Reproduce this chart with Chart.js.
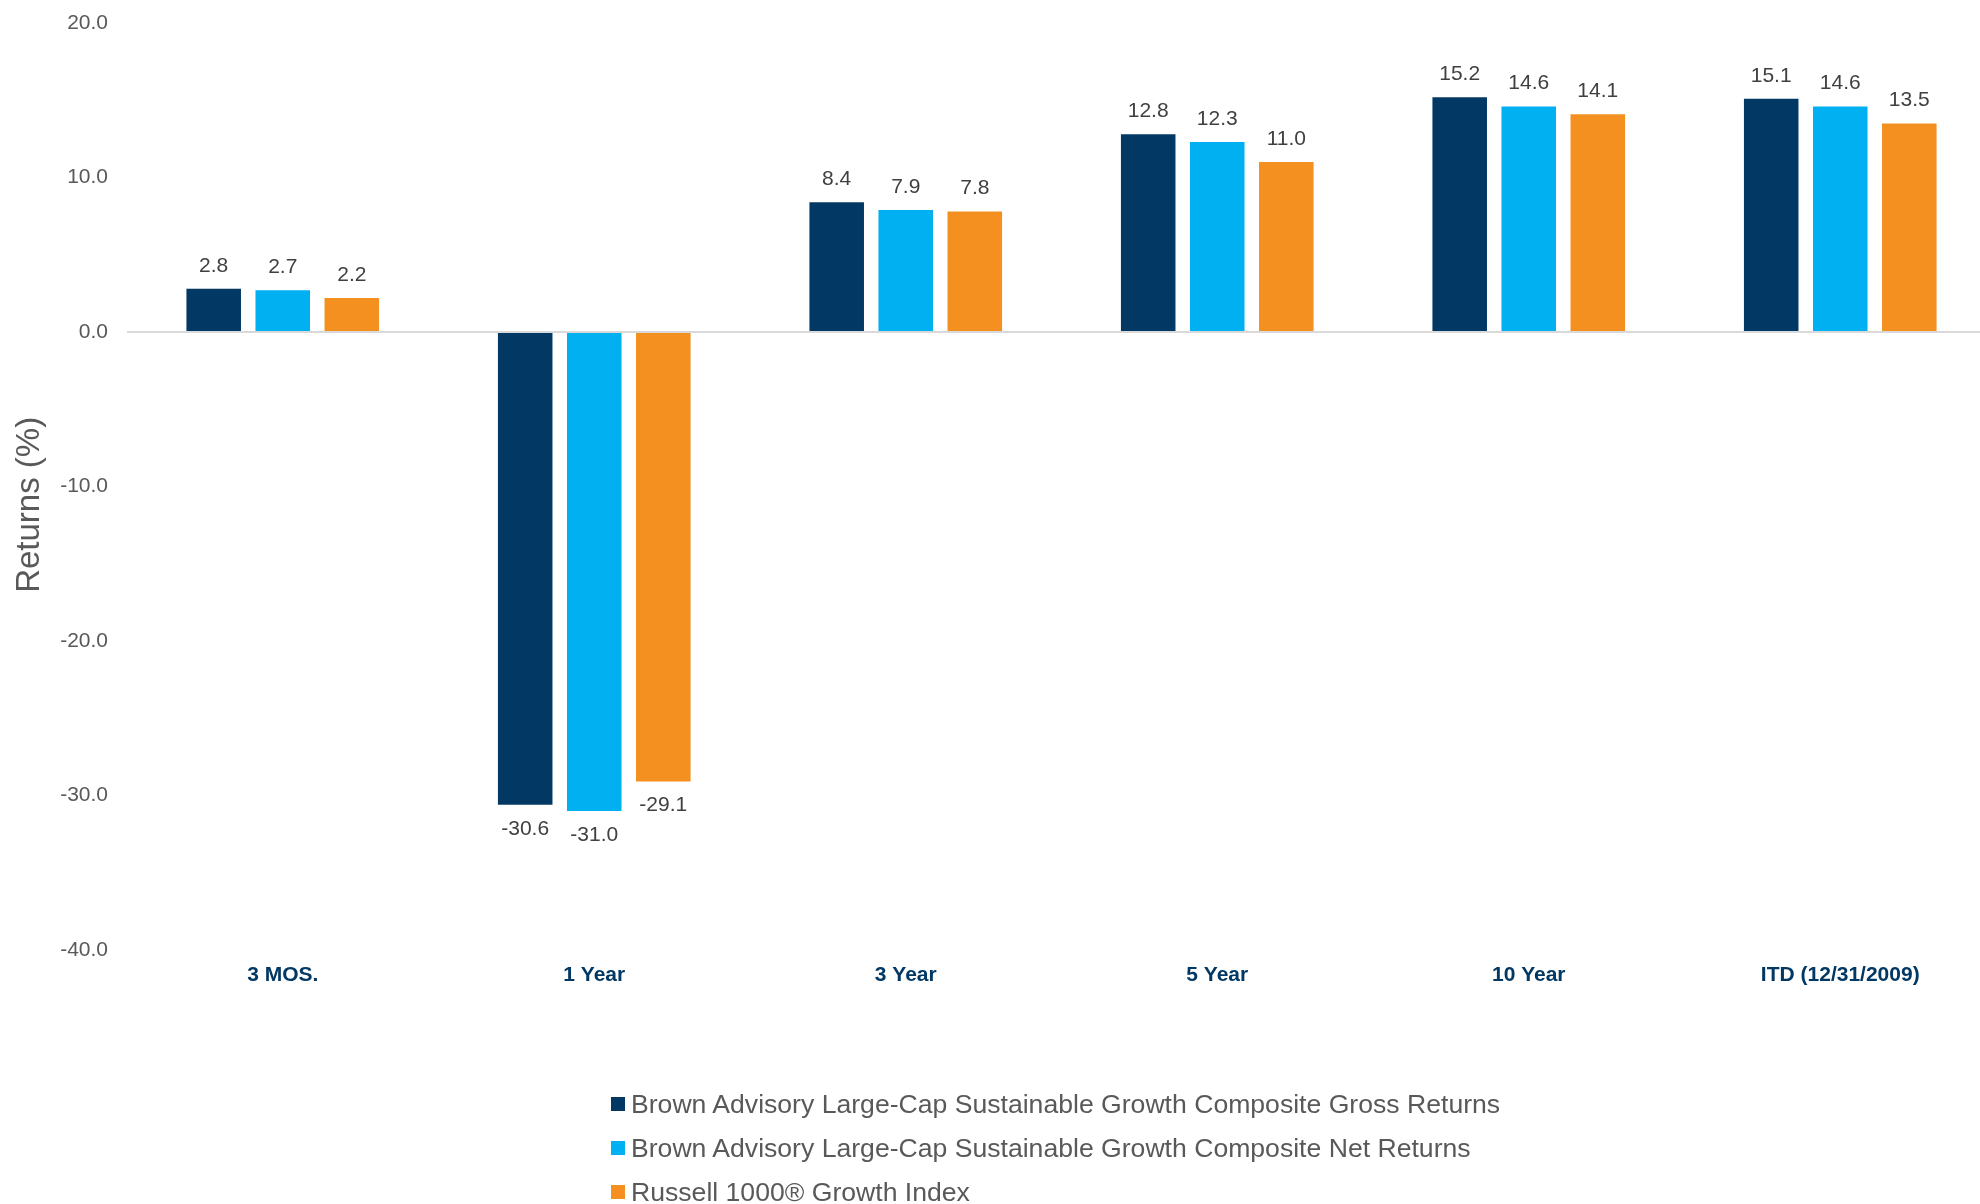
<!DOCTYPE html>
<html>
<head>
<meta charset="utf-8">
<script src="https://cdn.jsdelivr.net/npm/chart.js@4"></script>
<style>
  html, body { margin: 0; padding: 0; background: #fff; overflow: hidden; }
  #wrap { position: relative; width: 1996px; height: 1204px; }
  #legend { position: absolute; left: 611px; top: 1082px; font-family: "Liberation Sans", Arial, sans-serif; font-size: 26.6px; color: #595959; }
  #legend .item { display: flex; align-items: center; height: 44px; white-space: nowrap; }
  #legend .sw { width: 14px; height: 14px; margin-right: 6px; }
</style>
</head>
<body>
<div id="wrap">
  <canvas id="chart"></canvas>
  <div id="legend"></div>
</div>
<script>
// periods and returns (%)
const periods = ['3 MOS.', '1 Year', '3 Year', '5 Year', '10 Year', 'ITD (12/31/2009)'];
const grossReturns = [2.8, -30.6, 8.4, 12.8, 15.2, 15.1];
const netReturns = [2.7, -31.0, 7.9, 12.3, 14.6, 14.6];
const indexReturns = [2.2, -29.1, 7.8, 11.0, 14.1, 13.5];
const seriesNames = [
  'Brown Advisory Large-Cap Sustainable Growth Composite Gross Returns',
  'Brown Advisory Large-Cap Sustainable Growth Composite Net Returns',
  'Russell 1000\u00AE Growth Index'
];
const colors = ['#023864', '#00B0F0', '#F39020'];

// value labels above / below each bar
const barLabels = {
  id: 'barLabels',
  afterDatasetsDraw(chart) {
    const ctx = chart.ctx;
    ctx.save();
    ctx.font = '21px "Liberation Sans", Arial, sans-serif';
    ctx.fillStyle = '#404040';
    ctx.textAlign = 'center';
    ctx.textBaseline = 'middle';
    chart.data.datasets.forEach((ds, i) => {
      chart.getDatasetMeta(i).data.forEach((bar, j) => {
        const v = ds.data[j];
        const y = v >= 0 ? bar.y - 23 : bar.y + 24;
        ctx.fillText(v.toFixed(1), bar.x, y);
      });
    });
    ctx.restore();
  }
};

const datasets = [grossReturns, netReturns, indexReturns].map((d, i) => ({
  label: seriesNames[i],
  data: d,
  backgroundColor: colors[i],
  categoryPercentage: 0.665,
  barPercentage: 0.79
}));

new Chart(document.getElementById('chart'), {
  type: 'bar',
  data: { labels: periods, datasets },
  options: {
    responsive: true,
    maintainAspectRatio: false,
    animation: false,
    layout: { padding: { top: 23, right: 0, bottom: 0, left: 0 } },
    plugins: { legend: { display: false }, tooltip: { enabled: false } },
    scales: {
      x: {
        grid: { display: false },
        border: { display: false },
        ticks: {
          color: '#023864',
          font: { family: '"Liberation Sans", Arial, sans-serif', size: 21, weight: 'bold' },
          padding: 5,
          maxRotation: 0
        },
        afterFit(scale) { scale.height = 254; }
      },
      y: {
        min: -40,
        max: 20,
        ticks: {
          stepSize: 10,
          color: '#595959',
          font: { family: '"Liberation Sans", Arial, sans-serif', size: 21 },
          padding: 19,
          callback: v => v.toFixed(1)
        },
        grid: {
          drawTicks: false,
          lineWidth: 2,
          color: c => c.tick && c.tick.value === 0 ? '#D9D9D9' : 'rgba(0,0,0,0)'
        },
        border: { display: false },
        title: {
          display: true,
          text: 'Returns (%)    ',
          color: '#595959',
          font: { family: '"Liberation Sans", Arial, sans-serif', size: 33 },
          padding: { top: 10, bottom: 0 }
        },
        afterFit(scale) {
          scale.width = 127;
          scale.paddingTop = 0;
          scale.paddingBottom = 0;
        }
      }
    }
  },
  plugins: [barLabels]
});

// legend, one series per line
const legend = document.getElementById('legend');
seriesNames.forEach((name, i) => {
  const row = document.createElement('div');
  row.className = 'item';
  const sw = document.createElement('span');
  sw.className = 'sw';
  sw.style.background = colors[i];
  const txt = document.createElement('span');
  txt.textContent = name;
  row.appendChild(sw);
  row.appendChild(txt);
  legend.appendChild(row);
});
</script>
</body>
</html>
